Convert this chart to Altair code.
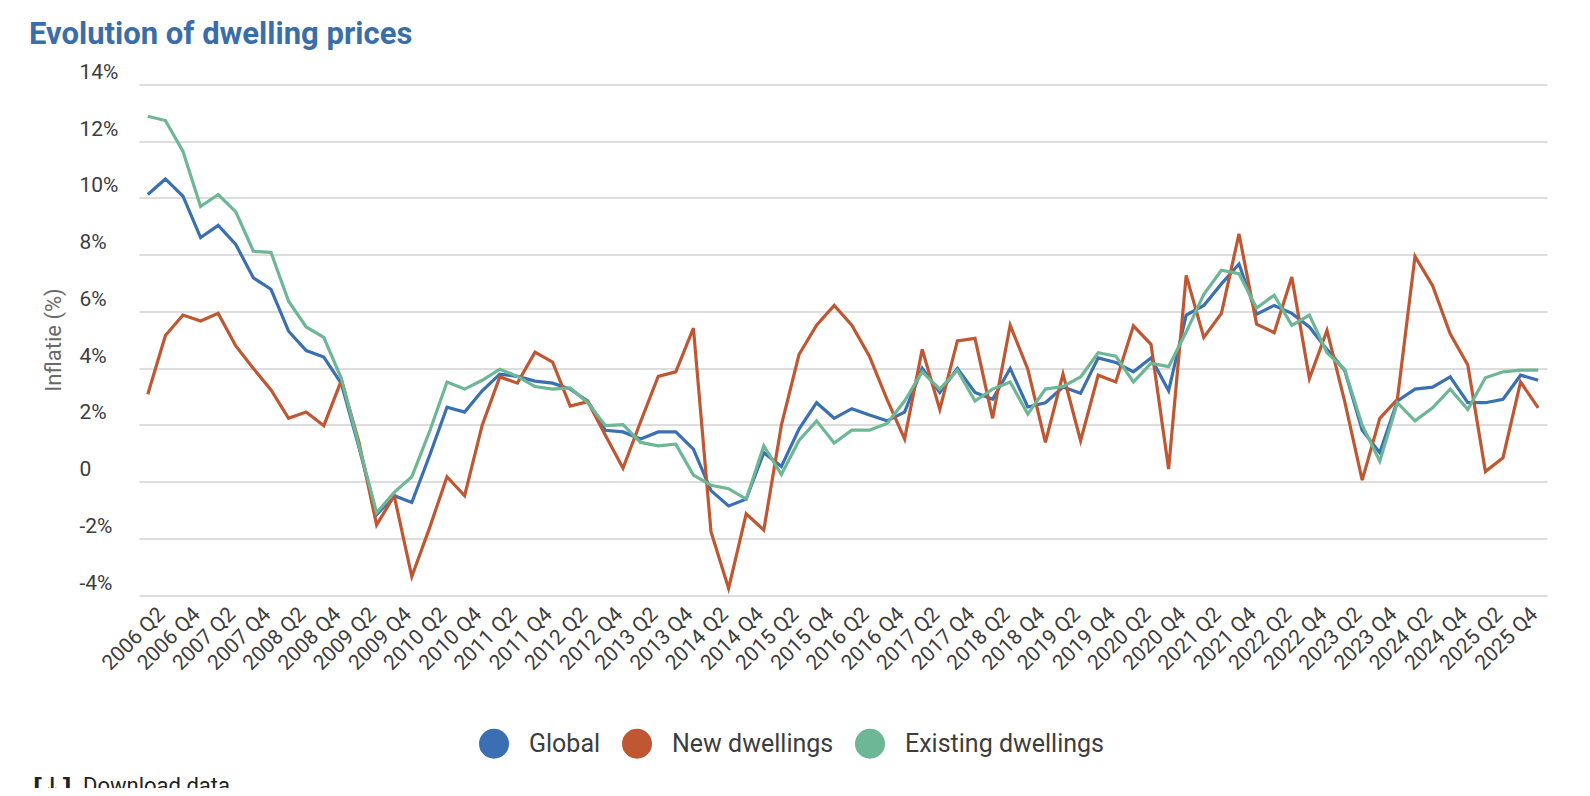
import altair as alt
import pandas as pd

years = list(range(2006, 2026))
quarter_nums = [1, 2, 3, 4]
quarters = [f"{y} Q{q}" for y in years for q in quarter_nums]

series_names = ["Global", "New dwellings", "Existing dwellings"]
series_colors = ["#3a70b2", "#bf5733", "#6db796"]

global_vals = [10.12, 10.67, 10.06, 8.60, 9.03, 8.36, 7.18, 6.78, 5.30, 4.62,
               4.39, 3.45, 1.20, -1.17, -0.50, -0.74, 0.90, 2.62, 2.45, 3.20,
               3.79, 3.71, 3.54, 3.47, 3.26, 2.84, 1.81, 1.75, 1.50, 1.75,
               1.75, 1.14, -0.32, -0.86, -0.62, 1.02, 0.53, 1.85, 2.78, 2.23,
               2.57, 2.35, 2.14, 2.45, 3.99, 3.14, 3.99, 3.14, 2.90, 3.99,
               2.63, 2.78, 3.33, 3.11, 4.36, 4.20, 3.87, 4.36, 3.20, 5.87,
               6.21, 6.97, 7.67, 5.90, 6.21, 5.93, 5.45, 4.66, 3.93, 1.81,
               1.02, 2.84, 3.26, 3.33, 3.69, 2.78, 2.78, 2.90, 3.75, 3.57]

new_vals = [3.08, 5.15, 5.87, 5.66, 5.93, 4.78, 3.99, 3.23, 2.23, 2.45,
            1.97, 3.57, 1.38, -1.53, -0.50, -3.35, -1.65, 0.17, -0.50, 1.99,
            3.69, 3.47, 4.56, 4.21, 2.66, 2.82, 1.63, 0.47, 2.11, 3.71,
            3.87, 5.41, -1.77, -3.77, -1.14, -1.71, 1.99, 4.48, 5.51, 6.21,
            5.51, 4.42, 2.90, 1.50, 4.66, 2.54, 4.96, 5.05, 2.23, 5.51,
            3.96, 1.38, 3.79, 1.44, 3.75, 3.51, 5.49, 4.84, 0.44, 7.27,
            5.08, 5.93, 8.73, 5.55, 5.25, 7.21, 3.63, 5.33, 2.84, 0.05,
            2.23, 2.90, 7.94, 6.91, 5.21, 4.11, 0.35, 0.84, 3.51, 2.60]

existing_vals = [12.88, 12.73, 11.64, 9.70, 10.12, 9.51, 8.12, 8.08, 6.36, 5.45,
                 5.08, 3.63, 1.26, -1.10, -0.38, 0.17, 1.75, 3.51, 3.26, 3.57,
                 3.96, 3.71, 3.35, 3.26, 3.30, 2.78, 1.97, 2.01, 1.38, 1.26,
                 1.32, 0.23, -0.13, -0.25, -0.62, 1.26, 0.25, 1.45, 2.14, 1.36,
                 1.81, 1.81, 2.05, 2.84, 3.87, 3.26, 3.93, 2.84, 3.26, 3.51,
                 2.38, 3.26, 3.35, 3.69, 4.54, 4.42, 3.51, 4.17, 4.05, 5.27,
                 6.60, 7.45, 7.33, 6.12, 6.57, 5.51, 5.87, 4.54, 3.96, 1.99,
                 0.72, 2.78, 2.14, 2.60, 3.26, 2.54, 3.66, 3.87, 3.93, 3.93]

y_ticks = [-4, -2, 0, 2, 4, 6, 8, 10, 12, 14]
x_label_values = quarters[1::2]

rows = []
for name, vals in zip(series_names, [global_vals, new_vals, existing_vals]):
    for q, v in zip(quarters, vals):
        rows.append({"quarter": q, "series": name, "value": v})
df = pd.DataFrame(rows)

FONT = "Roboto"
TEXT = "#3d3d3d"

lines = alt.Chart(df).mark_line(strokeWidth=3.2).encode(
    x=alt.X(
        "quarter:O",
        sort=quarters,
        scale=alt.Scale(type="point", range=[60, 1468]),
        axis=alt.Axis(
            values=x_label_values, labelAngle=315, labelAlign="right",
            labelBaseline="middle", labelPadding=16, labelOffset=-4,
            ticks=False, domain=False,
            grid=False, title=None, labelFontSize=21, labelColor=TEXT,
            labelFont=FONT, labelOverlap=False,
        ),
    ),
    y=alt.Y(
        "value:Q",
        scale=alt.Scale(domain=[-4, 14], nice=False, zero=False),
        axis=alt.Axis(
            values=y_ticks,
            labelExpr="datum.value == 0 ? '0' : datum.value + '%'",
            labelAlign="left", labelBaseline="alphabetic", labelPadding=0,
            tickSize=0, ticks=False, domain=False, labelOffset=-6,
            grid=True, gridColor="#dddddd", gridWidth=2,
            labelFontSize=21, labelColor=TEXT, labelFont=FONT,
            title="Inflatie (%)", titleX=-26, titleY=255, titleAngle=270,
            titleAlign="center", titleBaseline="middle", titleFontSize=22,
            titleFontWeight="normal", titleColor="#6a6a6a", titleFont=FONT,
        ),
    ),
    color=alt.Color(
        "series:N",
        scale=alt.Scale(domain=series_names, range=series_colors),
        legend=alt.Legend(
            orient="none", legendX=400, legendY=644, direction="horizontal",
            title=None, symbolType="circle", symbolSize=225,
            symbolStrokeWidth=15, labelFontSize=25, labelColor=TEXT,
            labelFont=FONT, labelOffset=20, columnPadding=-2, padding=0,
            labelLimit=400,
        ),
    ),
)

download = alt.Chart(pd.DataFrame({"t": ["Download data"]})).mark_text(
    align="left", baseline="alphabetic", fontSize=22, font=FONT, color="#222222"
).encode(x=alt.value(4), y=alt.value(708), text="t:N")

icon = alt.Chart(pd.DataFrame({"t": ["[↓]"]})).mark_text(
    align="left", baseline="alphabetic", fontSize=22, font="DejaVu Sans",
    color="#222222", fontWeight="bold"
).encode(x=alt.value(-46), y=alt.value(708), text="t:N")

chart = alt.layer(lines, download, icon).properties(
    width=1478,
    height=510.5,
    background="white",
    title=alt.TitleParams(
        "Evolution of dwelling prices", anchor="start", frame="group",
        dx=-50, fontSize=31, font=FONT, fontWeight="bold", color="#3a6ea8",
        offset=11,
    ),
    autosize=alt.AutoSizeParams(type="none"),
    padding={"left": 71, "top": 76.5, "right": 10, "bottom": 193},
).configure_view(stroke=None)

chart.save("out.html", embed_options={"renderer": "svg", "actions": False})
